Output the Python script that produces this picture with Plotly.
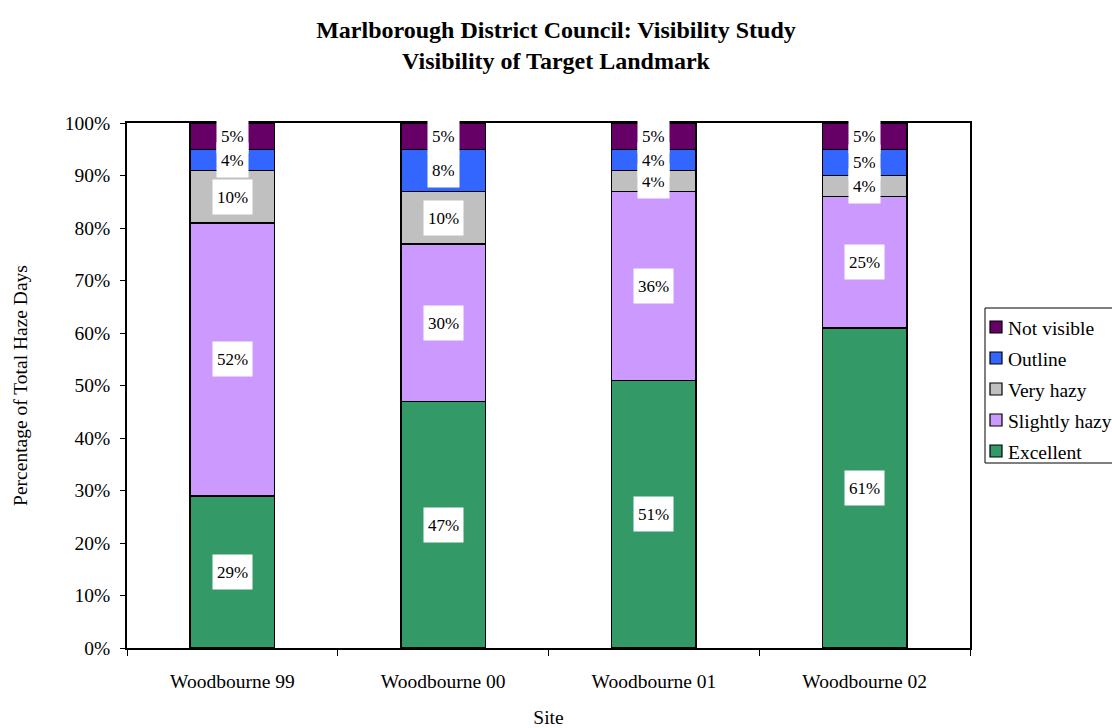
import plotly.graph_objects as go

sites = ["Woodbourne 99", "Woodbourne 00", "Woodbourne 01", "Woodbourne 02"]
excellent = [29, 47, 51, 61]
slightly_hazy = [52, 30, 36, 25]
very_hazy = [10, 10, 4, 4]
outline = [4, 8, 4, 5]
not_visible = [5, 5, 5, 5]

series = [
    ("Excellent", excellent, "#339966"),
    ("Slightly hazy", slightly_hazy, "#CC99FF"),
    ("Very hazy", very_hazy, "#C0C0C0"),
    ("Outline", outline, "#3366FF"),
    ("Not visible", not_visible, "#660066"),
]

FONT = "Liberation Serif, Times New Roman, serif"
W, H = 1112, 728
L, R, T, B = 127, 142, 123, 80
PW, PH = W - L - R, H - T - B

fig = go.Figure()
base = [0] * len(sites)
annotations = []
for name, vals, color in series:
    fig.add_trace(go.Bar(
        x=sites, y=vals, name=name, showlegend=False,
        marker=dict(color=color, line=dict(color="black", width=1.5)),
        width=0.4, hoverinfo="skip",
    ))
    for i, v in enumerate(vals):
        annotations.append(dict(
            x=sites[i], y=base[i] + v / 2, xref="x", yref="y",
            text=f"{v}%", showarrow=False, bgcolor="white",
            font=dict(family=FONT, size=17, color="black"),
            height=26, borderpad=4,
        ))
        base[i] += v

# Legend box drawn in paper coordinates, entries listed top to bottom
def px_x(px):
    return (px - L) / PW

def px_y(py):
    return (H - B - py) / PH

shapes = [dict(
    type="rect", xref="paper", yref="paper",
    x0=px_x(985), x1=px_x(1125), y0=px_y(463), y1=px_y(308),
    line=dict(color="black", width=1), fillcolor="white", layer="above",
)]
row_y = 327
for name, vals, color in reversed(series):
    shapes.append(dict(
        type="rect", xref="paper", yref="paper",
        x0=px_x(990), x1=px_x(1002), y0=px_y(row_y + 6), y1=px_y(row_y - 6),
        line=dict(color="black", width=1.2), fillcolor=color, layer="above",
    ))
    annotations.append(dict(
        x=px_x(1006), y=px_y(row_y + 1), xref="paper", yref="paper",
        xanchor="left", yanchor="middle", text=name, showarrow=False,
        font=dict(family=FONT, size=19.5, color="black"),
    ))
    row_y += 31

fig.update_layout(
    barmode="stack",
    width=W, height=H,
    margin=dict(l=L, r=R, t=T, b=B, autoexpand=False),
    paper_bgcolor="white", plot_bgcolor="white",
    font=dict(family=FONT, size=19.5, color="black"),
    title=dict(
        text="<b>Marlborough District Council: Visibility Study<br>Visibility of Target Landmark</b>",
        x=0.5, xref="container", xanchor="center",
        y=1 - 38 / H, yref="container", yanchor="middle",
        font=dict(family=FONT, size=24, color="black"),
    ),
    annotations=annotations,
    shapes=shapes,
    showlegend=False,
)

fig.update_xaxes(
    showline=True, linecolor="black", linewidth=1.5, mirror=True,
    ticks="outside", tickson="boundaries", ticklen=6, tickcolor="black",
    ticklabelstandoff=15, showgrid=False, automargin=False,
    title=dict(text="Site", standoff=20, font=dict(family=FONT, size=19.5)),
)
fig.update_yaxes(
    range=[0, 100], dtick=10, ticksuffix="%",
    showline=True, linecolor="black", linewidth=1.5, mirror=True,
    ticks="outside", ticklen=5, tickcolor="black", ticklabelstandoff=6,
    showgrid=False, zeroline=False, automargin=False,
    title=dict(text="Percentage of Total Haze Days", standoff=32,
               font=dict(family=FONT, size=19.5)),
)

fig.write_html("out.html")
